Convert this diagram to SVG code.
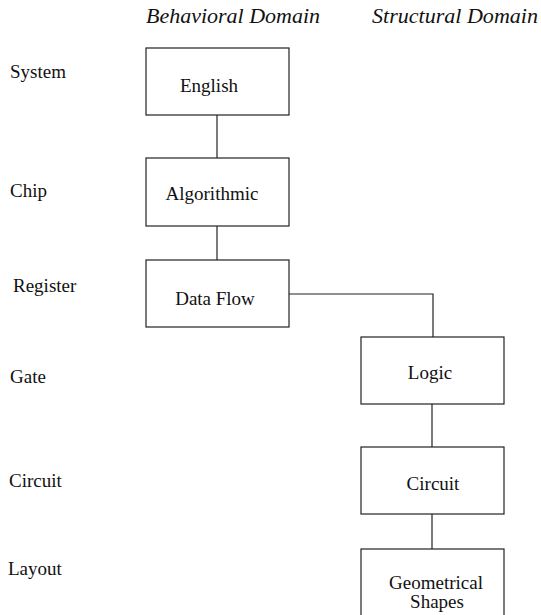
<svg xmlns="http://www.w3.org/2000/svg" width="541" height="615" viewBox="0 0 541 615">
<style>
  text { font-family: "Liberation Serif", "Times New Roman", serif; font-size: 19px; fill: #111; }
  .title { font-style: italic; font-size: 20px; }
  .lvl { text-anchor: start; }
  .lbl { text-anchor: middle; }
  rect { fill: #fff; stroke: #222; stroke-width: 1.2; }
  .conn line, .conn polyline { fill: none; stroke: #222; stroke-width: 1.2; }
</style>
<rect x="0" y="0" width="541" height="615" style="fill:#fff;stroke:none"/>
<g id="titles">
  <text class="title" x="146" y="23" textLength="174" lengthAdjust="spacingAndGlyphs">Behavioral Domain</text>
  <text class="title" x="372" y="23" textLength="166" lengthAdjust="spacingAndGlyphs">Structural Domain</text>
</g>
<g id="levels">
  <text class="lvl" x="10" y="78">System</text>
  <text class="lvl" x="10" y="197">Chip</text>
  <text class="lvl" x="13" y="292">Register</text>
  <text class="lvl" x="10" y="383">Gate</text>
  <text class="lvl" x="9" y="487">Circuit</text>
  <text class="lvl" x="8" y="575">Layout</text>
</g>
<g class="conn" id="connectors">
  <line x1="217" y1="115" x2="217" y2="158"/>
  <line x1="217" y1="226" x2="217" y2="260"/>
  <polyline points="289,294 433,294 433,337"/>
  <line x1="432" y1="404" x2="432" y2="447"/>
  <line x1="432" y1="514" x2="432" y2="549"/>
</g>
<g id="english">
  <rect x="146" y="48" width="143" height="67"/>
  <text class="lbl" x="209" y="92">English</text>
</g>
<g id="algorithmic">
  <rect x="146" y="158" width="143" height="68"/>
  <text class="lbl" x="212" y="200">Algorithmic</text>
</g>
<g id="dataflow">
  <rect x="146" y="260" width="143" height="67"/>
  <text class="lbl" x="215" y="305">Data Flow</text>
</g>
<g id="logic">
  <rect x="361" y="337" width="143" height="67"/>
  <text class="lbl" x="430" y="379">Logic</text>
</g>
<g id="circuit">
  <rect x="361" y="447" width="143" height="67"/>
  <text class="lbl" x="433" y="490">Circuit</text>
</g>
<g id="geometrical">
  <rect x="361" y="549" width="143" height="80"/>
  <text class="lbl" x="436" y="589">Geometrical</text>
  <text class="lbl" x="437" y="608">Shapes</text>
</g>
</svg>
